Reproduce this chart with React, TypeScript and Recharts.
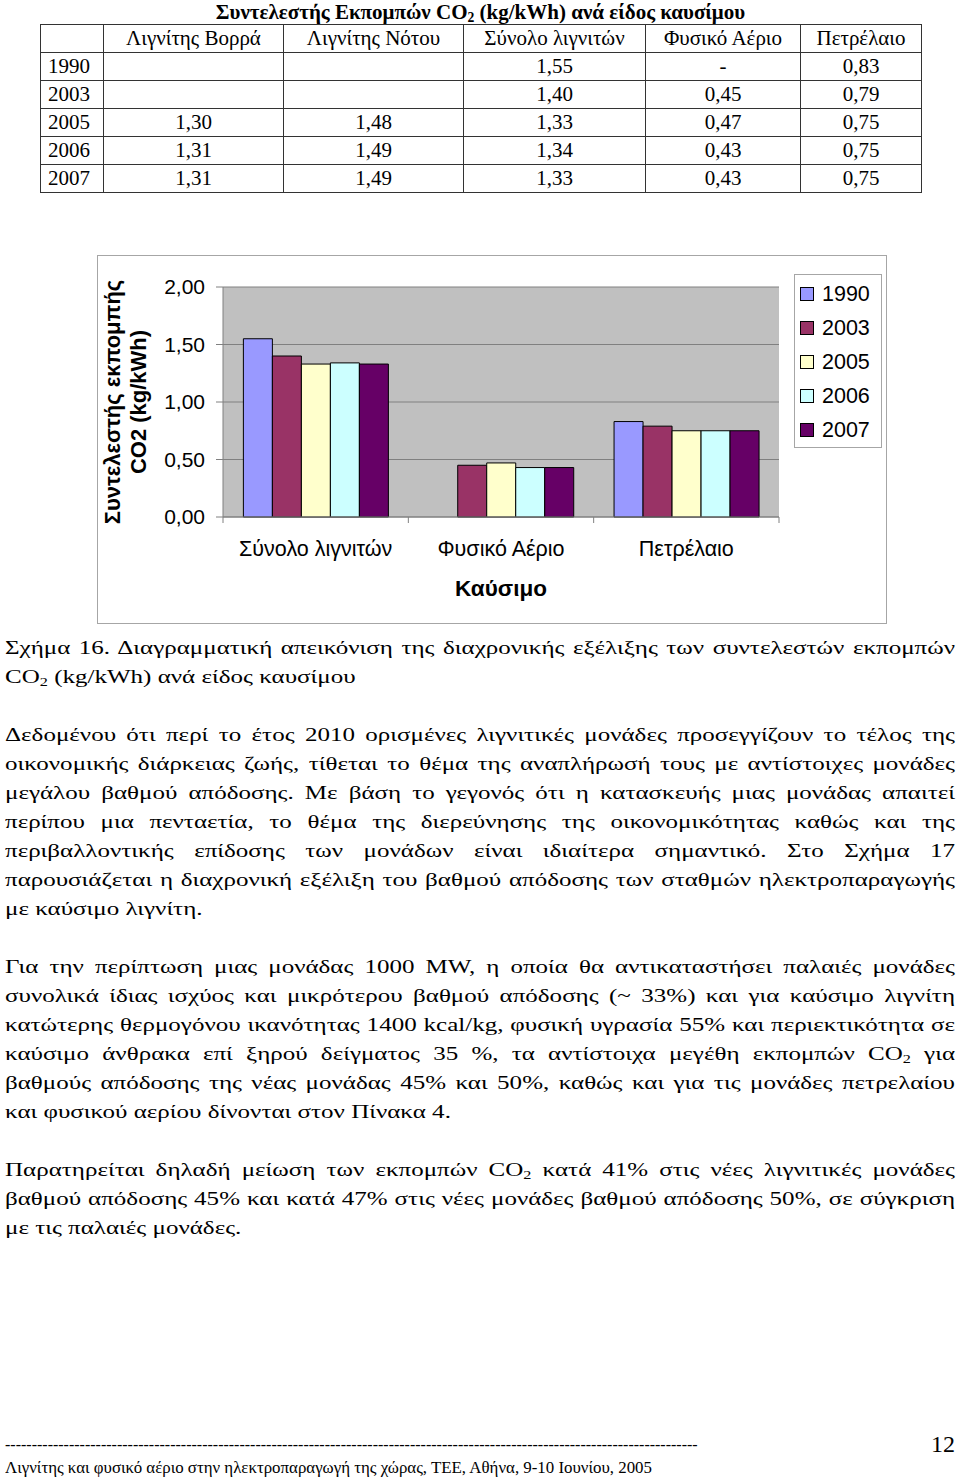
import React from "react";
import { BarChart, Bar, XAxis, YAxis, CartesianGrid, Legend } from "recharts";

const years = ["1990", "2003", "2005", "2006", "2007"];
const fuels = ["Σύνολο λιγνιτών", "Φυσικό Αέριο", "Πετρέλαιο"];
const tableCols = ["Λιγνίτης Βορρά", "Λιγνίτης Νότου", "Σύνολο λιγνιτών", "Φυσικό Αέριο", "Πετρέλαιο"];

const ligniteNorth = [null, null, 1.3, 1.31, 1.31];
const ligniteSouth = [null, null, 1.48, 1.49, 1.49];
const ligniteTotal = [1.55, 1.4, 1.33, 1.34, 1.33];
const naturalGas = [null, 0.45, 0.47, 0.43, 0.43];
const oil = [0.83, 0.79, 0.75, 0.75, 0.75];

const yTicks = [0, 0.5, 1, 1.5, 2];
const COLORS = ["#9999FF", "#993366", "#FFFFCC", "#CCFFFF", "#660066"];

const caption = [
  "Σχήμα 16. Διαγραμματική απεικόνιση της διαχρονικής εξέλιξης των συντελεστών εκπομπών",
];
const para1 = [
  "Δεδομένου ότι περί το έτος 2010 ορισμένες λιγνιτικές μονάδες προσεγγίζουν το τέλος της",
  "οικονομικής διάρκειας ζωής, τίθεται το θέμα της αναπλήρωσή τους με αντίστοιχες μονάδες",
  "μεγάλου βαθμού απόδοσης. Με βάση το γεγονός ότι η κατασκευής μιας μονάδας  απαιτεί",
  "περίπου μια πενταετία, το θέμα της διερεύνησης της οικονομικότητας καθώς και της",
  "περιβαλλοντικής επίδοσης των μονάδων είναι ιδιαίτερα σημαντικό. Στο Σχήμα 17",
  "παρουσιάζεται η διαχρονική εξέλιξη του βαθμού απόδοσης των σταθμών ηλεκτροπαραγωγής",
];
const para2 = [
  "Για την περίπτωση μιας μονάδας 1000 MW, η οποία θα αντικαταστήσει παλαιές μονάδες",
  "συνολικά ίδιας ισχύος και μικρότερου βαθμού απόδοσης (~ 33%) και για καύσιμο λιγνίτη",
  "κατώτερης θερμογόνου ικανότητας 1400 kcal/kg, φυσική υγρασία 55% και περιεκτικότητα σε",
];
const para2b = ["βαθμούς απόδοσης της νέας μονάδας 45% και 50%, καθώς και για τις μονάδες πετρελαίου"];
const para3b = ["βαθμού απόδοσης 45% και κατά 47% στις νέες μονάδες βαθμού απόδοσης 50%, σε σύγκριση"];

const fmt = (v: number) => v.toFixed(2).replace(".", ",");

const series = [ligniteTotal, naturalGas, oil];
const chartData = fuels.map((name, i) => {
  const row: Record<string, any> = { name };
  years.forEach((y, j) => {
    row[y] = series[i][j];
  });
  return row;
});

const SANS = "'Liberation Sans', Arial, sans-serif";
const SERIF = "'Liberation Serif', 'Times New Roman', serif";
const SX = 1.39;

const Just = ({ text }: { text: React.ReactNode }) => (
  <div style={{ height: 29, lineHeight: "29px", whiteSpace: "nowrap", textAlign: "justify", textAlignLast: "justify" } as React.CSSProperties}>
    {text}
  </div>
);
const Plain = ({ text }: { text: React.ReactNode }) => (
  <div style={{ height: 29, lineHeight: "29px", whiteSpace: "nowrap" }}>{text}</div>
);
const Blank = () => <div style={{ height: 29 }} />;

const CO2 = () => (
  <>
    CO<sub style={{ fontSize: "0.65em", verticalAlign: "-0.25em", lineHeight: 0 }}>2</sub>
  </>
);

const XTick = (props: any) => {
  const { x, y, payload, index, visibleTicksCount } = props;
  const off = payload.offset || 0;
  return (
    <g>
      <line x1={x - off} y1={y} x2={x - off} y2={y + 6} stroke="#808080" />
      {index === visibleTicksCount - 1 && <line x1={x + off} y1={y} x2={x + off} y2={y + 6} stroke="#808080" />}
      <text x={x} y={y + 32} textAnchor="middle" dominantBaseline="central" fontSize={21.5} fill="#000" fontFamily={SANS}>
        {payload.value}
      </text>
    </g>
  );
};

const LegendBox = (props: any) => {
  const items = props.payload || [];
  return (
    <div style={{ border: "1px solid #a6a6a6", background: "#fff", paddingTop: 2, fontFamily: SANS, fontSize: 21.5, boxSizing: "border-box" }}>
      {items.map((it: any) => (
        <div key={it.value} style={{ height: 34, display: "flex", alignItems: "center" }}>
          <span style={{ display: "inline-block", width: 12, height: 12, border: "1px solid #000", background: it.color, marginLeft: 5, marginRight: 8 }} />
          <span>{it.value}</span>
        </div>
      ))}
    </div>
  );
};

const Chart = () => (
  <div style={{ position: "absolute", left: 97, top: 255, width: 790, height: 369 }}>
    <div style={{ position: "absolute", inset: 0, border: "1px solid #a6a6a6", boxSizing: "border-box" }} />
    <BarChart
      width={790}
      height={369}
      data={chartData}
      margin={{ top: 32, right: 108, left: 0, bottom: 0 }}
      barCategoryGap="11%"
      barGap={0}
      style={{ position: "absolute", left: 0, top: 0 }}
    >
      <CartesianGrid vertical={false} fill="#C0C0C0" stroke="#808080" />
      <XAxis
        dataKey="name"
        height={107}
        tickLine={false}
        tickSize={0}
        tickMargin={0}
        axisLine={{ stroke: "#808080" }}
        tick={<XTick />}
        interval={0}
        label={{
          content: (p: any) => {
            const vb = p.viewBox || {};
            return (
              <text x={vb.x + vb.width / 2} y={vb.y + 71} textAnchor="middle" dominantBaseline="central" fontSize={22.5} fontWeight="bold" fontFamily={SANS} fill="#000">
                Καύσιμο
              </text>
            );
          },
        }}
      />
      <YAxis
        width={126}
        domain={[0, 2]}
        ticks={yTicks}
        tickFormatter={fmt}
        tickSize={7}
        tickMargin={11}
        tickLine={{ stroke: "#808080" }}
        axisLine={{ stroke: "#808080" }}
        tick={{ fontSize: 21, fill: "#000", fontFamily: SANS }}
        label={{
          content: (p: any) => {
            const vb = p.viewBox || {};
            const cy = vb.y + vb.height / 2;
            const x1 = vb.x + 15;
            const x2 = vb.x + 41;
            return (
              <g fontFamily={SANS} fontSize={22} fontWeight="bold" fill="#000">
                <text x={x1} y={cy} transform={`rotate(-90, ${x1}, ${cy})`} textAnchor="middle" dominantBaseline="central">
                  Συντελεστής εκπομπής
                </text>
                <text x={x2} y={cy} transform={`rotate(-90, ${x2}, ${cy})`} textAnchor="middle" dominantBaseline="central">
                  CO2 (kg/kWh)
                </text>
              </g>
            );
          },
        }}
      />
      <Legend
        layout="horizontal"
        verticalAlign="middle"
        align="center"
        content={<LegendBox />}
        wrapperStyle={{ position: "absolute", left: 697, top: 19, width: 88, height: 170 }}
      />
      {years.map((y, i) => (
        <Bar key={y} dataKey={y} fill={COLORS[i]} stroke="#000" strokeWidth={1} isAnimationActive={false} />
      ))}
    </BarChart>
  </div>
);

const Table = () => {
  const widths = [63, 180, 180, 182, 155, 121];
  const cols = [ligniteNorth, ligniteSouth, ligniteTotal, naturalGas, oil];
  const cell = (i: number, align: string): React.CSSProperties => ({
    height: 27,
    padding: i === 0 ? "0 0 0 7px" : 0,
    border: "1px solid #333",
    textAlign: align as any,
    lineHeight: "27px",
    whiteSpace: "nowrap",
  });
  return (
    <>
      <div style={{ position: "absolute", left: 40, top: 0, width: 881, height: 25, lineHeight: "25px", textAlign: "center", fontFamily: SERIF, fontWeight: "bold", fontSize: 21 }}>
        Συντελεστής Εκπομπών CO<sub style={{ fontSize: "0.65em", verticalAlign: "-0.25em", lineHeight: 0 }}>2</sub> (kg/kWh) ανά είδος καυσίμου
      </div>
      <table style={{ position: "absolute", left: 40, top: 24, borderCollapse: "collapse", fontFamily: SERIF, fontSize: 21, tableLayout: "fixed", width: 881 }}>
        <colgroup>
          {widths.map((w, i) => (
            <col key={i} style={{ width: w }} />
          ))}
        </colgroup>
        <tbody>
          <tr>
            <td style={cell(0, "left")} />
            {tableCols.map((c, i) => (
              <td key={c} style={cell(i + 1, "center")}>{c}</td>
            ))}
          </tr>
          {years.map((y, r) => (
            <tr key={y}>
              <td style={cell(0, "left")}>{y}</td>
              {cols.map((col, i) => {
                const v = col[r];
                const txt = v == null ? (col === naturalGas ? "-" : "") : fmt(v);
                return (
                  <td key={i} style={cell(i + 1, "center")}>{txt}</td>
                );
              })}
            </tr>
          ))}
        </tbody>
      </table>
    </>
  );
};

const Body = () => (
  <div
    style={{
      position: "absolute",
      left: 5,
      top: 634,
      width: 950 / SX,
      transform: `scaleX(${SX})`,
      transformOrigin: "0 0",
      fontFamily: SERIF,
      fontSize: 18,
      color: "#000",
    }}
  >
    {caption.map((t) => <Just key={t} text={t} />)}
    <Plain text={<><CO2 /> (kg/kWh) ανά είδος καυσίμου</>} />
    <Blank />
    {para1.map((t) => <Just key={t} text={t} />)}
    <Plain text="με καύσιμο λιγνίτη." />
    <Blank />
    {para2.map((t) => <Just key={t} text={t} />)}
    <Just text={<>καύσιμο άνθρακα επί ξηρού δείγματος 35 %, τα αντίστοιχα μεγέθη εκπομπών <CO2 />  για</>} />
    {para2b.map((t) => <Just key={t} text={t} />)}
    <Plain text="και φυσικού αερίου δίνονται στον Πίνακα 4." />
    <Blank />
    <Just text={<>Παρατηρείται δηλαδή μείωση των εκπομπών <CO2 /> κατά 41% στις νέες λιγνιτικές μονάδες</>} />
    {para3b.map((t) => <Just key={t} text={t} />)}
    <Plain text="με τις παλαιές μονάδες." />
  </div>
);

const Footer = () => (
  <>
    <div style={{ position: "absolute", left: 5, top: 1436, fontFamily: SERIF, fontSize: 16, lineHeight: "18px", whiteSpace: "nowrap" }}>
      {"-".repeat(130)}
    </div>
    <div style={{ position: "absolute", right: 5, top: 1430, fontFamily: SERIF, fontSize: 24, lineHeight: "28px" }}>12</div>
    <div
      style={{
        position: "absolute",
        left: 5,
        top: 1459,
        fontFamily: SERIF,
        fontSize: 16,
        lineHeight: "18px",
        whiteSpace: "nowrap",
        transform: "scaleX(1.054)",
        transformOrigin: "0 0",
      }}
    >
      Λιγνίτης και φυσικό αέριο στην ηλεκτροπαραγωγή της χώρας, ΤΕΕ, Αθήνα, 9-10 Ιουνίου, 2005
    </div>
  </>
);

export default function App() {
  return (
    <div style={{ position: "absolute", left: 0, top: 0, width: 960, height: 1480, background: "#fff", overflow: "hidden" }}>
      <Table />
      <Chart />
      <Body />
      <Footer />
    </div>
  );
}
